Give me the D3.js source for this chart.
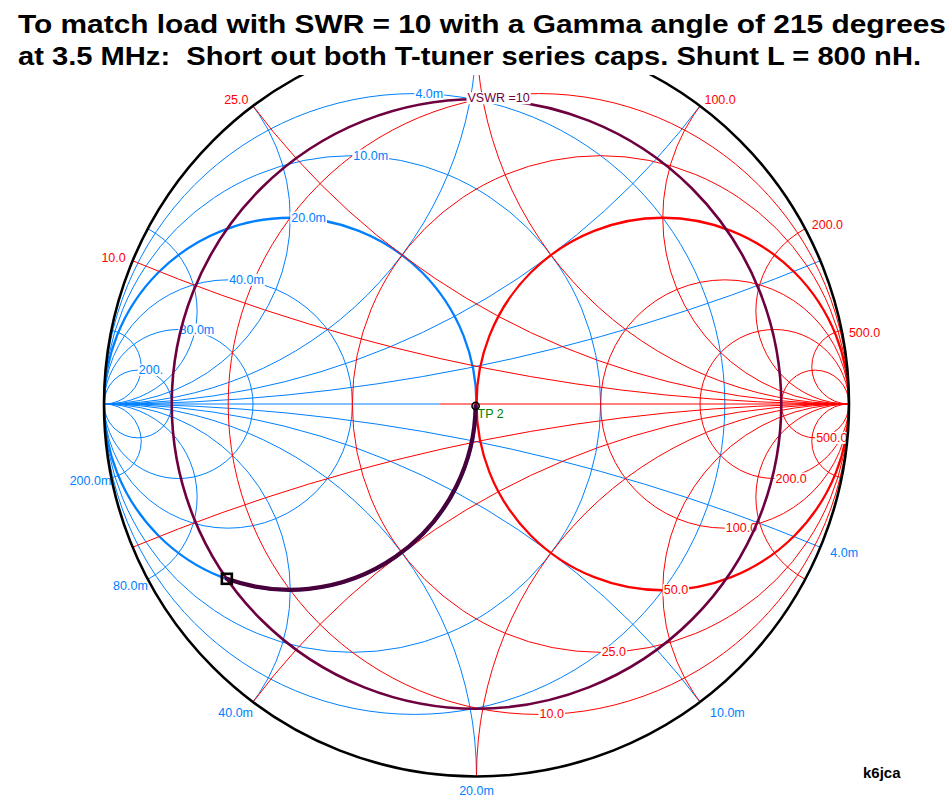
<!DOCTYPE html>
<html>
<head>
<meta charset="utf-8">
<script src="https://cdn.jsdelivr.net/npm/d3@7"></script>
<style>
  html, body { margin: 0; padding: 0; background: #fff; }
  svg { display: block; }
  text { font-family: "Liberation Sans", Arial, sans-serif; }
</style>
</head>
<body>
<svg id="chart" width="950" height="804"></svg>
<script>
// ---------------- DATA ----------------
const titleLines = [
  "To match load with SWR = 10 with a Gamma angle of 215 degrees",
  "at 3.5 MHz:  Short out both T-tuner series caps. Shunt L = 800 nH."
];
const credit = "k6jca";
const Z0 = 50;                                   // ohms
const gridValues = [0.2, 0.5, 1, 2, 4, 10];      // normalized grid values
const resistanceLabels  = ["10.0", "25.0", "50.0", "100.0", "200.0", "500.0"];
const reactanceLabels   = ["10.0", "25.0", "50.0", "100.0", "200.0", "500.0"];
const conductanceLabels = ["4.0m", "10.0m", "20.0m", "40.0m", "80.0m", "200."];
const susceptanceLabels = ["4.0m", "10.0m", "20.0m", "40.0m", "80.0m", "200.0m"];
const loadSWR = 10;
const loadGammaAngleDeg = 215;
const freqMHz = 3.5;
const shuntL_nH = 800;
const vswrLabel = "VSWR =10";
const pointLabel = "TP 2";

// ---------------- LAYOUT ----------------
const cx = 476.5, cy = 404, R = 372.5;
const titleBand = 75;
const RED = "#ff0000", BLUE = "#0080ff", VSWRC = "#6e0040", TRACE = "#48003c";
const sx = d3.scaleLinear().domain([-1, 1]).range([cx - R, cx + R]);
const sy = d3.scaleLinear().domain([-1, 1]).range([cy + R, cy - R]);
const sr = d3.scaleLinear().domain([0, 1]).range([0, R]);

const svg = d3.select("#chart");
svg.append("rect").attr("width", 950).attr("height", 804).attr("fill", "#fff");
svg.append("defs").append("clipPath").attr("id", "unit")
  .append("circle").attr("cx", sx(0)).attr("cy", sy(0)).attr("r", sr(1));

const grid = svg.append("g").attr("clip-path", "url(#unit)").attr("fill", "none");

function circ(g, c, color, w) {
  g.append("circle").attr("cx", sx(c.u)).attr("cy", sy(c.v)).attr("r", sr(c.r))
    .attr("stroke", color).attr("stroke-width", w).attr("fill", "none");
}

// ---- admittance (blue) grid ----
const blueG = grid.append("g");
blueG.append("line").attr("x1", sx(-1)).attr("x2", sx(-0.1)).attr("y1", sy(0)).attr("y2", sy(0))
  .attr("stroke", BLUE).attr("stroke-width", 1);
gridValues.forEach(g => circ(blueG, {u: -g / (1 + g), v: 0, r: 1 / (1 + g)}, BLUE, g === 1 ? 2.3 : 1));
gridValues.forEach(b => {
  circ(blueG, {u: -1, v: -1 / b, r: 1 / b}, BLUE, 1);
  circ(blueG, {u: -1, v: 1 / b, r: 1 / b}, BLUE, 1);
});

// ---- impedance (red) grid ----
const redG = grid.append("g");
redG.append("line").attr("x1", sx(-0.1)).attr("x2", sx(1)).attr("y1", sy(0)).attr("y2", sy(0))
  .attr("stroke", RED).attr("stroke-width", 1);
gridValues.forEach(r => circ(redG, {u: r / (1 + r), v: 0, r: 1 / (1 + r)}, RED, r === 1 ? 2.3 : 1));
gridValues.forEach(x => {
  circ(redG, {u: 1, v: 1 / x, r: 1 / x}, RED, 1);
  circ(redG, {u: 1, v: -1 / x, r: 1 / x}, RED, 1);
});

// ---------------- LABELS ----------------
const labelLayer = svg.append("g");
function addLabel(layer, txt, x, y, anchor, color, size) {
  if (y < titleBand) return null;            // hidden behind the title band
  const g = layer.append("g");
  const bg = g.append("rect").attr("fill", "#fff");
  const t = g.append("text").attr("x", x).attr("y", y).attr("text-anchor", anchor)
    .attr("dominant-baseline", "central").attr("fill", color)
    .style("font-size", (size || 12.5) + "px").style("white-space", "pre").text(txt);
  const bb = t.node().getBBox();
  bg.attr("x", bb.x - 1).attr("y", bb.y + 1).attr("width", bb.width + 2).attr("height", bb.height - 2);
  return t;
}
const anchorFor = u => (u > 0.05 ? "start" : (u < -0.05 ? "end" : "middle"));

// reactance labels on the rim (upper half)
gridValues.forEach((x, i) => {
  const u = (x * x - 1) / (x * x + 1), v = 2 * x / (x * x + 1);
  addLabel(labelLayer, reactanceLabels[i], sx(1.02 * u), sy(1.02 * v) + (u > 0.9 ? 4 : 0), anchorFor(u), RED);
});
// susceptance labels on the rim (lower half)
gridValues.forEach((b, i) => {
  const u = (1 - b * b) / (1 + b * b), v = -2 * b / (1 + b * b);
  const a = anchorFor(u);
  addLabel(labelLayer, susceptanceLabels[i], sx(u) + (a === "start" ? 10 : 0), sy(v) - v * 14, a, BLUE);
});
// conductance labels at top of each g circle
gridValues.forEach((g, i) => {
  addLabel(labelLayer, conductanceLabels[i], sx(-g / (1 + g)) + 1, sy(1 / (1 + g)), "start", BLUE);
});
// resistance labels at bottom of each r circle
gridValues.forEach((r, i) => {
  addLabel(labelLayer, resistanceLabels[i], sx(r / (1 + r)) + 1, sy(-1 / (1 + r)), "start", RED);
});

// ---------------- VSWR circle ----------------
const gMag = (loadSWR - 1) / (loadSWR + 1);
svg.append("circle").attr("cx", sx(0)).attr("cy", sy(0)).attr("r", sr(gMag))
  .attr("fill", "none").attr("stroke", VSWRC).attr("stroke-width", 2.6);
addLabel(svg, vswrLabel, sx(0) - 9, sy(gMag) - 1, "start", VSWRC);

// ---------------- trace: load -> shunt L along constant conductance ----------------
const ang = loadGammaAngleDeg * Math.PI / 180;
const gu = gMag * Math.cos(ang), gv = gMag * Math.sin(ang);
// admittance of load: y = (1 - Gamma) / (1 + Gamma)
const den = (1 + gu) * (1 + gu) + gv * gv;
const yLoadG = ((1 - gu) * (1 + gu) - gv * gv) / den;
const yLoadB = (-(gv) * (1 + gu) - (1 - gu) * gv) / den;
const bL = Z0 / (2 * Math.PI * freqMHz * 1e6 * shuntL_nH * 1e-9); // normalized inductive susceptance
const yEndG = yLoadG, yEndB = yLoadB - bL;
const endDen = (1 + yEndG) * (1 + yEndG) + yEndB * yEndB;
const eu = ((1 - yEndG) * (1 + yEndG) - yEndB * yEndB) / endDen;
const ev = (-yEndB * (1 + yEndG) - (1 - yEndG) * yEndB) / endDen;
const arcR = sr(1 / (1 + yLoadG));
svg.append("path")
  .attr("d", `M${sx(gu)},${sy(gv)} A${arcR},${arcR} 0 0 0 ${sx(eu)},${sy(ev)}`)
  .attr("fill", "none").attr("stroke", TRACE).attr("stroke-width", 4.2).attr("stroke-linecap", "round");

// ---------------- outer circle ----------------
svg.append("circle").attr("cx", sx(0)).attr("cy", sy(0)).attr("r", sr(1))
  .attr("fill", "none").attr("stroke", "#000").attr("stroke-width", 2.6);

// markers
svg.append("rect").attr("x", sx(gu) - 5).attr("y", sy(gv) - 5).attr("width", 10).attr("height", 10)
  .attr("fill", "none").attr("stroke", "#000").attr("stroke-width", 2.6);
svg.append("circle").attr("cx", sx(eu)).attr("cy", sy(ev)).attr("r", 3.6)
  .attr("fill", "none").attr("stroke", "#000").attr("stroke-width", 1.6);
svg.append("text").attr("x", sx(eu) + 2).attr("y", sy(ev) + 8).attr("dominant-baseline", "central")
  .attr("fill", "#008000").style("font-size", "12.5px").text(pointLabel);

// ---------------- title ----------------
svg.append("rect").attr("x", 0).attr("y", 0).attr("width", 950).attr("height", titleBand).attr("fill", "#fff");
const titleWidths = [928, 903];
titleLines.forEach((s, i) => {
  svg.append("text").attr("x", 18).attr("y", 33 + i * 31.5)
    .attr("textLength", titleWidths[i]).attr("lengthAdjust", "spacingAndGlyphs")
    .style("font-size", "26px").style("font-weight", "bold").style("white-space", "pre")
    .attr("fill", "#000").text(s);
});
svg.append("text").attr("x", 863).attr("y", 778)
  .style("font-size", "15px").style("font-weight", "bold").attr("fill", "#000").text(credit);
</script>
</body>
</html>
